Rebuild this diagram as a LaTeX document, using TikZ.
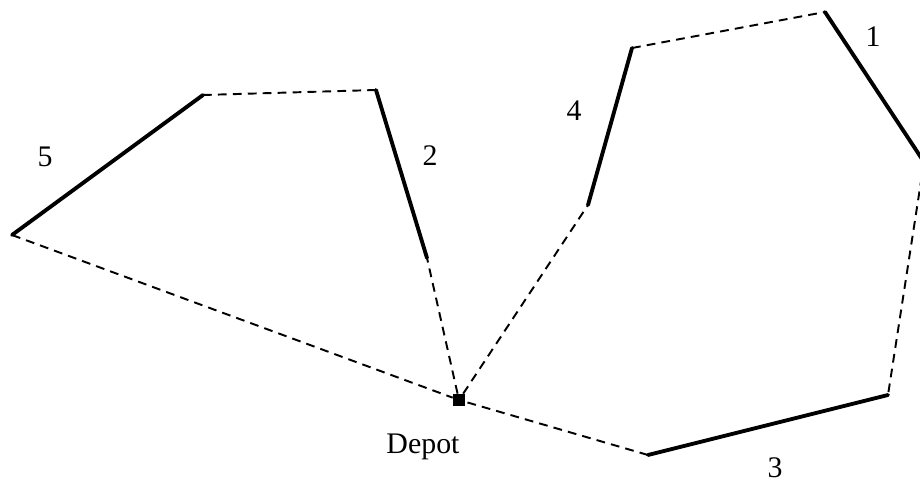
\documentclass[tikz,border=0pt]{standalone}
\usepackage{fontspec}
\setmainfont{Liberation Serif}
\usetikzlibrary{positioning}
\begin{document}
\begin{tikzpicture}[
    x=0.2mm, y=-0.2mm,
    route/.style={line width=2.2pt, line cap=round},
    link/.style={line width=1.1pt, dash pattern=on 5pt off 3.5pt},
    lbl/.style={font=\fontsize{17}{20}\selectfont, inner sep=0pt}
  ]
  \useasboundingbox (0,0) rectangle (920,483);
  \clip (0,0) rectangle (920,483);

  \node[fill, inner sep=0pt, minimum size=2.4mm] (depot) at (459,400) {};
  \node[lbl] (depotlbl) at (423,447) {Depot};

  \coordinate (a2) at (427,258);
  \coordinate (b2) at (376,90);
  \coordinate (a5) at (203,95);
  \coordinate (b5) at (12,235);
  \coordinate (a4) at (588,205);
  \coordinate (b4) at (632,48);
  \coordinate (a1) at (825,12);
  \coordinate (b1) at (924,162);
  \coordinate (a3) at (888,395);
  \coordinate (b3) at (648,455);

  % left tour
  \draw[link] (depot) -- (a2);
  \draw[route] (a2) -- (b2);
  \draw[link] (b2) -- (a5);
  \draw[route] (a5) -- (b5);
  \draw[link] (b5) -- (depot);

  % right tour
  \draw[link] (depot) -- (a4);
  \draw[route] (a4) -- (b4);
  \draw[link] (b4) -- (a1);
  \draw[route] (a1) -- (b1);
  \draw[link] (b1) -- (a3);
  \draw[route] (a3) -- (b3);
  \draw[link] (b3) -- (depot);

  \node[lbl] (n5) at (45,157) {5};
  \node[lbl] (n2) at (430,156) {2};
  \node[lbl] (n4) at (574,111) {4};
  \node[lbl] (n1) at (873,37) {1};
  \node[lbl] (n3) at (775,468) {3};
\end{tikzpicture}
\end{document}
